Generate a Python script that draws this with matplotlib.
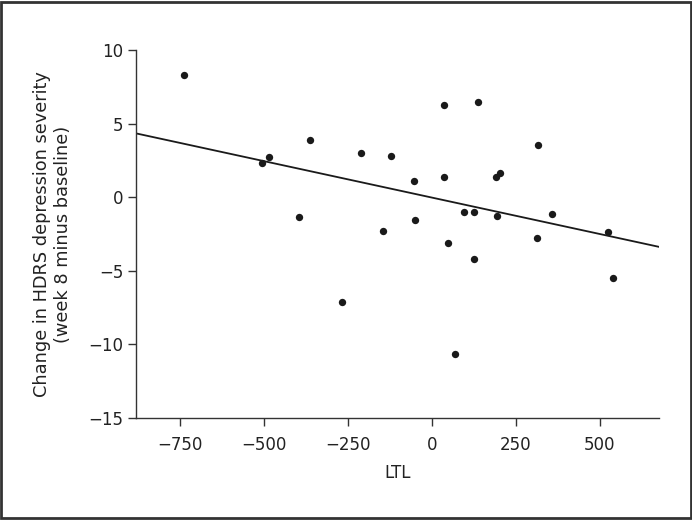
import numpy as np
import matplotlib.pyplot as plt
from matplotlib.patches import Rectangle

# LTL change vs change in HDRS score
ltl = [-738, -505, -486, -364, -396, -268, -211, -121, -145, -53, -51,
       35, 37, 47, 69, 96, 126, 127, 137, 190, 193, 204, 312, 316, 357, 525, 539]
hdrs = [8.3, 2.3, 2.75, 3.87, -1.36, -7.13, 3.0, 2.81, -2.29, 1.11, -1.58,
        1.38, 6.27, -3.08, -10.67, -1.04, -4.19, -1.04, 6.43, 1.40, -1.25, 1.65,
        -2.76, 3.53, -1.11, -2.38, -5.46]

plt.rcParams["font.family"] = ["DejaVu Sans"]
plt.rcParams["font.size"] = 12

fig = plt.figure(figsize=(6.92, 5.2), dpi=100)
ax = fig.add_axes([0.1965, 0.196, 0.7555, 0.708])

ax.scatter(ltl, hdrs, s=28, color="#1a1a1a", zorder=3, linewidths=0)

xlim = (-881, 676)
slope, intercept = np.polyfit(ltl, hdrs, 1)
xs = np.array(xlim)
ax.plot(xs, slope * xs + intercept, color="#1a1a1a", linewidth=1.3)

ax.set_xlim(*xlim)
ax.set_ylim(-15, 10)
ax.set_xticks([-750, -500, -250, 0, 250, 500])
ax.set_yticks([-15, -10, -5, 0, 5, 10])
ax.set_xticklabels(["\u2212750", "\u2212500", "\u2212250", "0", "250", "500"])
ax.set_yticklabels(["\u221215", "\u221210", "\u22125", "0", "5", "10"])
ax.spines["top"].set_visible(False)
ax.spines["right"].set_visible(False)
for s in ["left", "bottom"]:
    ax.spines[s].set_color("#333333")
    ax.spines[s].set_linewidth(1.0)
ax.tick_params(direction="out", length=6, width=1.0, color="#333333",
               labelsize=12, labelcolor="#222222", pad=3)
ax.tick_params(axis="x", pad=7)

ax.set_xlabel("LTL", fontsize=12, color="#222222", labelpad=7)
ax.set_ylabel("Change in HDRS depression severity\n(week 8 minus baseline)",
              fontsize=12.8, color="#222222", labelpad=12, linespacing=1.2)

fig.patches.append(Rectangle((0.002, 0.003), 0.996, 0.994, transform=fig.transFigure,
                             fill=False, edgecolor="#333333", linewidth=2))

fig.savefig("out.png", dpi=100)
